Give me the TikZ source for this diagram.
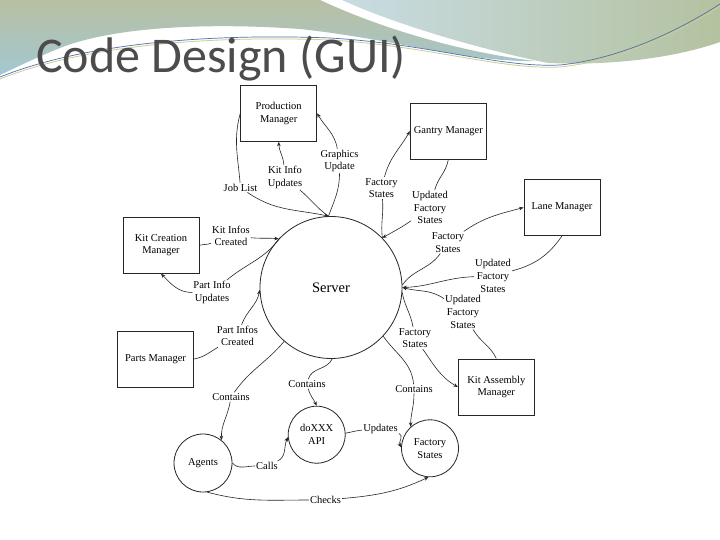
\documentclass[tikz,border=0pt]{standalone}
\usepackage{fontspec}
\setmainfont{Liberation Serif}
\newfontfamily\titlefont{Carlito}
\usetikzlibrary{arrows.meta}

\definecolor{hdrolive}{HTML}{B8C0A2}
\definecolor{hdrteal}{HTML}{A3C7D1}
\definecolor{hdrsky}{HTML}{C8DCE3}
\definecolor{hdrsage}{HTML}{B4C2A0}
\definecolor{titlegray}{HTML}{4C4C4C}
\definecolor{lineblue}{HTML}{4F72A8}
\definecolor{linesand}{HTML}{CFCB98}

\begin{document}
\begin{tikzpicture}[x=1pt,y=1pt,
  every node/.style={font=\fontsize{10.5}{12.7}\selectfont, align=center},
  box/.style={draw=black!85, line width=0.9pt, minimum width=76pt, minimum height=56pt, inner sep=1pt},
  bubble/.style={draw=black!85, circle, line width=0.8pt, inner sep=0pt},
  lbl/.style={fill=white, inner sep=1pt},
  flow/.style={line width=0.6pt, draw=black!85},
  arr/.style={flow, -{Stealth[length=4.5pt,width=3.6pt]}}]

% page
\fill[white] (0,0) rectangle (720,-540);
\useasboundingbox (0,0) rectangle (720,-540);

% header waves
\shade[top color=hdrolive, bottom color=hdrteal]
  (0,0) -- (320,0)
  .. controls (380,-28) and (460,-52) .. (535,-61)
  .. controls (465,-62) and (400,-40) .. (300,-29)
  .. controls (200,-22) and (110,-28) .. (60,-48)
  .. controls (35,-58) and (15,-68) .. (0,-75) -- cycle;
\shade[left color=hdrsky, right color=hdrsage]
  (342,0) -- (720,0) -- (720,-42)
  .. controls (680,-56) and (620,-66) .. (548,-63)
  .. controls (470,-47) and (390,-22) .. (342,0) -- cycle;
\draw[linesand, line width=0.8pt]
  (0,-79) .. controls (80,-47) and (200,-35) .. (330,-40)
  .. controls (430,-46) and (500,-70) .. (560,-67)
  .. controls (620,-61) and (680,-32) .. (720,-6);
\draw[lineblue, line width=0.7pt]
  (0,-77) .. controls (80,-45) and (200,-33) .. (330,-38)
  .. controls (430,-44) and (500,-68) .. (560,-65)
  .. controls (620,-59) and (680,-30) .. (720,-4);

% title
\node[anchor=base west, inner sep=0pt, text=titlegray,
      font=\titlefont\fontsize{50}{52}\selectfont] (title) at (36,-73) {Code Design (GUI)};

% managers
\node[box] (pm)    at (278.7,-113.3) {Production\\Manager};
\node[box] (gm)    at (448.3,-131.2) {Gantry Manager};
\node[box] (lm)    at (562,-207.5)   {Lane Manager};
\node[box] (kcm)   at (161,-245.3)   {Kit Creation\\Manager};
\node[box] (parts) at (155.5,-359)   {Parts Manager};
\node[box] (kam)   at (496.3,-387)   {Kit Assembly\\Manager};

% processes
\node[bubble, minimum size=142pt, font=\fontsize{14.5}{16}\selectfont] (srv) at (331,-287.5) {Server};
\node[bubble, minimum size=58pt] (ag)  at (203,-463)     {Agents};
\node[bubble, minimum size=57pt] (api) at (316.7,-434.7) {doXXX\\API};
\node[bubble, minimum size=57pt] (fs)  at (430,-448.3)   {Factory\\States};

% flow labels
\node[lbl] (jl)   at (240.5,-187.5) {Job List};
\node[lbl] (kiu)  at (285,-177.5)   {Kit Info\\Updates};
\node[lbl] (gu)   at (339.5,-161)   {Graphics\\Update};
\node[lbl] (fsg)  at (381.5,-188)   {Factory\\States};
\node[lbl] (ufsg) at (430,-207.5)   {Updated\\Factory\\States};
\node[lbl] (fsl)  at (448,-242.5)   {Factory\\States};
\node[lbl] (ufsl) at (493,-276)     {Updated\\Factory\\States};
\node[lbl] (ufsk) at (463,-312)     {Updated\\Factory\\States};
\node[lbl] (fsk)  at (415,-338)     {Factory\\States};
\node[lbl] (kic)  at (231,-236)     {Kit Infos\\Created};
\node[lbl] (piu)  at (212,-292.5)   {Part Info\\Updates};
\node[lbl] (pic)  at (237.5,-336)   {Part Infos\\Created};
\node[lbl] (c1)   at (231,-397)     {Contains};
\node[lbl] (c2)   at (307,-384)     {Contains};
\node[lbl] (c3)   at (414,-389)     {Contains};
\node[lbl] (calls) at (267,-466)    {Calls};
\node[lbl] (upd)  at (380.5,-428.5) {Updates};
\node[lbl] (chk)  at (325.5,-500)   {Checks};

% production manager flows
\draw[flow] (pm.west) to[out=-105,in=95] (jl);
\draw[arr]  (jl) to[out=-35,in=168] (srv.92);
\draw[flow] (srv.92) to[out=145,in=-40] (kiu);
\draw[arr]  (kiu) to[out=95,in=-88] (pm.south);
\draw[flow] (srv.92) to[out=70,in=-90] (gu);
\draw[arr]  (gu) to[out=100,in=-60] (pm.east);

% gantry manager flows
\draw[flow] (srv.44) to[out=97,in=-85] (fsg);
\draw[arr]  (fsg) to[out=75,in=-120] (gm.west);
\draw[flow] (gm.south) to[out=-100,in=75] (ufsg);
\draw[arr]  (ufsg) to[out=-145,in=30] (srv.44);

% lane manager flows
\draw[flow] (srv.2) to[out=55,in=-125] (fsl);
\draw[arr]  (fsl) to[out=35,in=195] (lm.west);
\draw[flow] (lm.south) to[out=-125,in=15] (ufsl);
\draw[arr]  (ufsl) to[out=182,in=2] (srv.0);

% kit assembly manager flows
\draw[flow] (kam.north) to[out=115,in=-60] (ufsk);
\draw[arr]  (ufsk) to[out=145,in=-15] (srv.0);
\draw[flow] (srv.-4) to[out=-80,in=100] (fsk);
\draw[arr]  (fsk) to[out=-55,in=150] (kam.west);

% kit creation and parts manager flows
\draw[flow] (kcm.east) to[out=15,in=200] (kic);
\draw[arr]  (kic) to[out=-5,in=175] (srv.137);
\draw[flow] (srv.135) to[out=-125,in=40] (piu);
\draw[arr]  (piu) to[out=180,in=-45] (kcm.south);
\draw[flow] (parts.east) to[out=10,in=-150] (pic);
\draw[arr]  (pic) to[out=70,in=-100] (srv.182);

% server internals
\draw[flow] (srv.229) to[out=-130,in=55] (c1);
\draw[arr]  (c1) to[out=-100,in=92] (ag.51);
\draw[flow] (srv.271) to[out=-115,in=75] (c2);
\draw[arr]  (c2) to[out=-75,in=115] (api.north);
\draw[flow] (srv.317) to[out=-55,in=95] (c3);
\draw[arr]  (c3) to[out=-90,in=90] (fs.132);
\draw[flow] (ag.0) to[out=-50,in=180] (calls);
\draw[arr]  (calls) to[out=25,in=-115] (api.185);
\draw[flow] (api.3) to[out=10,in=185] (upd);
\draw[arr]  (upd) to[out=-15,in=120] (fs.178);
\draw[flow] (ag.-82) to[out=-15,in=180] (chk);
\draw[arr]  (chk) to[out=5,in=-155] (fs.-93);
\end{tikzpicture}
\end{document}
